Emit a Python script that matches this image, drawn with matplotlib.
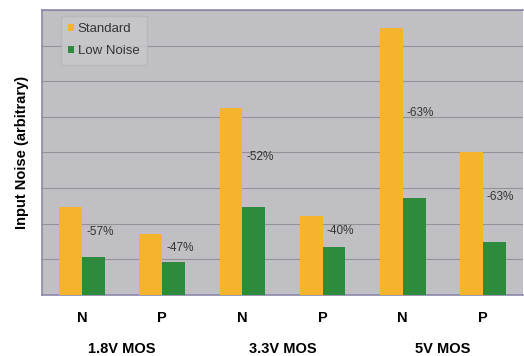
import numpy as np
import matplotlib.pyplot as plt

plt.rcParams['font.family'] = ['Liberation Sans', 'DejaVu Sans']

devices = ['N', 'P', 'N', 'P', 'N', 'P']
groups = ['1.8V MOS', '3.3V MOS', '5V MOS']
standard = [2.47, 1.72, 5.26, 2.22, 7.49, 4.00]
low_noise = [1.06, 0.92, 2.47, 1.34, 2.73, 1.48]
reduction = ['-57%', '-47%', '-52%', '-40%', '-63%', '-63%']

fig = plt.figure(figsize=(5.24, 3.56), dpi=100)
ax = fig.add_axes([0.080, 0.172, 0.918, 0.800])
ax.set_facecolor('#c0c0c4')

x = np.arange(len(devices))
w = 0.285
ax.bar(x - w / 2, standard, w, color='#f6b42c', label='Standard', zorder=3)
ax.bar(x + w / 2, low_noise, w, color='#2e8a3c', label='Low Noise', zorder=3)

# percentage reduction labels next to each pair
for xi, s, l, txt in zip(x, standard, low_noise, reduction):
    ax.text(xi + 0.05, (s + l) / 2, txt, ha='left', va='center',
            fontsize=8.5, color='#333333', zorder=4)

ax.set_xlim(-0.5, len(devices) - 0.5)
ax.set_ylim(0, 8)
ax.set_yticks(np.arange(0, 9, 1))
ax.set_yticklabels([])
ax.tick_params(axis='y', length=0)
ax.grid(axis='y', color='#929298', linewidth=0.8, zorder=1)

ax.set_xticks(x)
ax.set_xticklabels(devices, fontsize=10.5, fontweight='bold')
ax.tick_params(axis='x', length=0, pad=12)

for i, g in enumerate(groups):
    ax.text(2 * i + 0.5, -0.19, g, transform=ax.get_xaxis_transform(),
            ha='center', va='center', fontsize=10.5, fontweight='bold')

for side in ['left', 'bottom', 'top']:
    ax.spines[side].set_color('#8a88a8')
    ax.spines[side].set_linewidth(1.2)
ax.spines['right'].set_visible(False)

ax.set_ylabel('Input Noise (arbitrary)', fontsize=10.5, fontweight='bold', labelpad=6)

leg = ax.legend(loc='upper left', bbox_to_anchor=(0.040, 0.978), fontsize=9.5,
                handlelength=0.45, handleheight=0.45, handletextpad=0.25,
                frameon=True, fancybox=False, borderpad=0.55, labelspacing=0.75,
                borderaxespad=0)
leg.get_frame().set_facecolor('#c8c8cc')
leg.get_frame().set_edgecolor('#b4b4ba')
for t in leg.get_texts():
    t.set_color('#333333')

fig.savefig('out.png', dpi=100)
